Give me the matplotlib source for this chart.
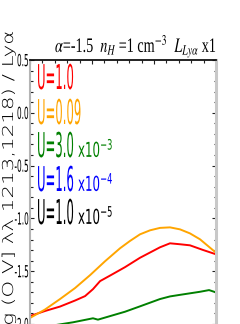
import matplotlib
matplotlib.use("Agg")
import matplotlib.pyplot as plt
from matplotlib import patheffects
from matplotlib.transforms import Affine2D
from matplotlib.ticker import MultipleLocator, FixedLocator, FormatStrFormatter

# x is just a 0-15 coordinate across the frame (the x labels are cut off)
x_u1 = [0.0, 1.21, 2.42, 3.63, 4.44, 5.08, 5.65, 6.45, 7.66, 8.87, 10.48, 11.29, 12.10, 12.90, 13.95, 15.0]
logr_u1 = [-1.925, -1.877, -1.835, -1.778, -1.736, -1.670, -1.594, -1.542, -1.462, -1.373,
           -1.274, -1.236, -1.245, -1.255, -1.299, -1.340]

x_u009 = [0.0, 1.21, 2.42, 3.63, 4.84, 6.05, 7.26, 8.06, 8.87, 9.68, 10.48, 11.29, 12.10,
          12.90, 13.71, 14.35, 15.0]
logr_u009 = [-1.943, -1.863, -1.764, -1.660, -1.538, -1.406, -1.283, -1.214, -1.151, -1.113,
             -1.090, -1.085, -1.104, -1.142, -1.198, -1.261, -1.325]

x_u3e3 = [0.0, 1.61, 3.47, 5.08, 5.48, 7.66, 8.87, 10.48, 11.29, 12.10, 13.71, 14.44, 15.0]
logr_u3e3 = [-2.047, -2.019, -1.984, -1.946, -1.959, -1.884, -1.833, -1.764, -1.739, -1.724,
             -1.695, -1.679, -1.701]

u_labels = ["U=1.0", "U=0.09", "U=3.0", "U=1.6", "U=1.0"]
u_exponents = ["", "", "-3", "-4", "-5"]
u_colors = ["red", "orange", "green", "blue", "black"]
ytick_vals = [-2.0, -1.5, -1.0, -0.5, 0.0, 0.5]

W, H = 240, 324  # figure size in pixels


class Stretch(patheffects.AbstractPathEffect):
    """Rescale glyphs (the original uses tall, narrow vector-font lettering)."""

    def __init__(self, sx=1.0, sy=1.0, xanchor="left", yanchor="baseline"):
        super().__init__()
        self.sx, self.sy = sx, sy
        self.xanchor, self.yanchor = xanchor, yanchor

    def draw_path(self, renderer, gc, tpath, affine, rgbFace=None):
        ext = tpath.get_extents()
        x0 = {"left": 0.0, "right": ext.x1, "center": 0.5 * (ext.x0 + ext.x1)}[self.xanchor]
        y0 = {"baseline": 0.0, "center": 0.5 * (ext.y0 + ext.y1)}[self.yanchor]
        st = Affine2D().translate(-x0, -y0).scale(self.sx, self.sy).translate(x0, y0)
        renderer.draw_path(gc, tpath, st + affine, rgbFace)


def ptext(fig, px, py, s, sx=1.0, sy=1.0, **kw):
    t = fig.text(px / W, 1 - py / H, s, **kw)
    t.set_path_effects([Stretch(sx, sy, kw.get("ha", "left"))])
    return t


def main():
    plt.rcParams["mathtext.fontset"] = "stix"
    plt.rcParams["axes.unicode_minus"] = False

    fig = plt.figure(figsize=(W / 100, H / 100), dpi=100)
    fig.patch.set_facecolor("white")

    # frame: top edge at 60 px, 105.6 px per unit in y, runs off the bottom
    ax = fig.add_axes([30 / W, 1 - 345.1 / H, 186 / W, 285.1 / H])
    ax.plot(x_u1, logr_u1, color=u_colors[0], lw=1.4)
    ax.plot(x_u009, logr_u009, color=u_colors[1], lw=1.4)
    ax.plot(x_u3e3, logr_u3e3, color=u_colors[2], lw=1.4)

    ax.set_xlim(0, 15)
    ax.set_ylim(-2.2, 0.5)

    ax.yaxis.set_major_locator(FixedLocator(ytick_vals))
    ax.yaxis.set_minor_locator(MultipleLocator(0.1))
    ax.yaxis.set_major_formatter(FormatStrFormatter("%.1f"))
    ax.xaxis.set_major_locator(MultipleLocator(5))
    ax.xaxis.set_minor_locator(MultipleLocator(1))
    ax.tick_params(which="both", direction="in", top=True, right=True,
                   labelbottom=False, color="#222222", width=0.8)
    ax.tick_params(which="major", length=3.2, pad=1.0, labelsize=4.8)
    ax.tick_params(which="minor", length=1.8)

    ax.spines["top"].set_color("#111111")
    ax.spines["top"].set_linewidth(1.3)
    ax.spines["left"].set_color("#b4b4b4")
    ax.spines["left"].set_linewidth(1.5)
    ax.spines["right"].set_color("#c8c8c8")
    ax.spines["right"].set_linewidth(2.2)
    ax.spines["bottom"].set_visible(False)

    for lab in ax.get_yticklabels():
        lab.set_path_effects([Stretch(1.1, 2.5, "right", "center")])

    # U labels, tall narrow lettering stacked down the left of the frame
    baselines = [89, 124, 157, 191, 224]
    for lab, ex, col, yb in zip(u_labels, u_exponents, u_colors, baselines):
        ptext(fig, 37, yb, lab, sy=2.93, color=col, fontsize=8.4, va="baseline", ha="left")
        if ex:
            ptext(fig, 78, yb, r"x10$^{\mathregular{%s}}$" % ex, sy=1.74,
                  color=col, fontsize=8.5, va="baseline", ha="left")

    # title line
    ptext(fig, 55, 52,
          r"$\alpha$=-1.5  $n_H$ =1 cm$^{-3}$  $L_{Ly\alpha}$ x1", sy=1.45,
          fontsize=10.2, family="Liberation Serif", va="baseline", ha="left")

    # y label (runs off the bottom of the picture, as in the original)
    ptext(fig, 13, 31, "log (O V] λλ 1213,1218) / Lyα", sx=3.08, sy=2.16,
          fontsize=5, fontweight="light", rotation=90, rotation_mode="anchor",
          va="baseline", ha="right")

    fig.savefig("out.png", dpi=100)
    plt.close(fig)


if __name__ == "__main__":
    main()
